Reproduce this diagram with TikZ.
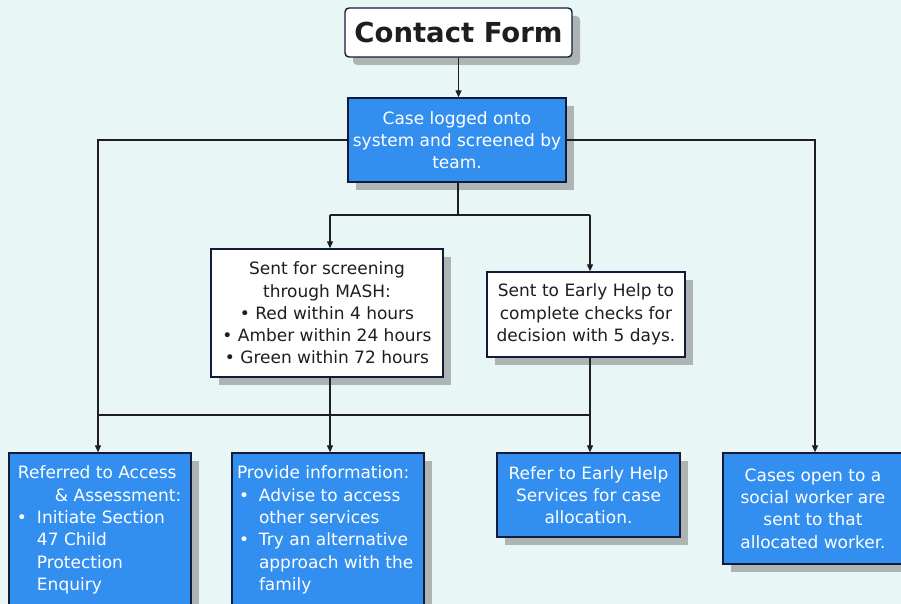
\documentclass[tikz,border=0pt]{standalone}
\usepackage{fontspec}
\setmainfont{DejaVu Sans}
\usetikzlibrary{arrows.meta,shadows}
\definecolor{bg}{RGB}{232,246,246}
\definecolor{boxblue}{RGB}{50,143,240}
\definecolor{navy}{RGB}{18,28,58}
\definecolor{shade}{RGB}{172,180,180}
\definecolor{ink}{RGB}{30,30,30}
\tikzset{
  conn/.style={line width=1.3pt, draw=ink},
  arr/.style={conn, -{Triangle[length=7pt,width=6pt]}},
  shbox/.style={draw=navy, line width=1.4pt, inner sep=0pt,
    drop shadow={shadow xshift=8pt, shadow yshift=-8pt, fill=shade, opacity=1}},
  whitebox/.style={shbox, fill=white, text=ink, align=center,
    font=\fontsize{17}{22.3}\selectfont},
  bluebox/.style={shbox, fill=boxblue, text=white, align=center,
    font=\fontsize{17}{22.3}\selectfont},
}
\newcommand{\bul}[2]{\makebox[#1][l]{\hspace{#2}\textbullet}}
\begin{document}
\begin{tikzpicture}[x=1pt,y=-1pt]
\fill[bg] (0,0) rectangle (901,604);
\clip (0,0) rectangle (901,604);
\useasboundingbox (0,0) rectangle (901,604);

% top
\node[shbox, fill=white, rounded corners=4pt, minimum width=227pt, minimum height=49pt,
  text=ink, font=\fontsize{27.5}{30}\selectfont\bfseries] (contact) at (458.5,32.5) {Contact Form};
\node[bluebox, minimum width=218pt, minimum height=84pt] (case) at (457,140)
  {Case logged onto\\system and screened by\\team.};

% middle
\node[whitebox, minimum width=232pt, minimum height=128pt] (mash) at (327,313)
  {Sent for screening\\through MASH:\\\textbullet\ Red within 4 hours\\\textbullet\ Amber within 24 hours\\\textbullet\ Green within 72 hours};
\node[whitebox, minimum width=198pt, minimum height=85pt] (eh) at (586,314.5)
  {Sent to Early Help to\\complete checks for\\decision with 5 days.};

% bottom
\node[bluebox, minimum width=182pt, minimum height=156pt, align=left] (ref) at (100,531)
  {\parbox[c][156pt][t]{182pt}{\vspace*{13pt}\raggedright
   \hspace*{9pt}Referred to Access\\
   \hspace*{46pt}\&~Assessment:\\
   \bul{28pt}{8pt}Initiate Section\\
   \hspace*{28pt}47 Child\\
   \hspace*{28pt}Protection\\
   \hspace*{28pt}Enquiry}};
\node[bluebox, minimum width=192pt, minimum height=156pt, align=left] (prov) at (328,531)
  {\parbox[c][156pt][t]{192pt}{\vspace*{13pt}\raggedright
   \hspace*{5pt}Provide information:\\
   \bul{27pt}{7pt}Advise to access\\
   \hspace*{27pt}other services\\
   \bul{27pt}{7pt}Try an alternative\\
   \hspace*{27pt}approach with the\\
   \hspace*{27pt}family}};
\node[bluebox, minimum width=183pt, minimum height=84pt] (refeh) at (588.5,495)
  {Refer to Early Help\\Services for case\\allocation.};
\node[bluebox, minimum width=180pt, minimum height=111pt] (cases) at (813,508.5)
  {Cases open to a\\social worker are\\sent to that\\allocated worker.};

% connectors
\draw[arr] (contact.south) -- (contact.south |- case.north);
\coordinate (lx) at (98,140);
\coordinate (rx) at (815,140);
\draw[arr] (case.west |- lx) -- (lx) -- (lx |- ref.north);
\draw[arr] (case.east |- rx) -- (rx) -- (rx |- cases.north);
\coordinate (s1) at (458,215);
\coordinate (sl) at (330,215);
\coordinate (sr) at (590,215);
\draw[conn] (case.south -| s1) -- (s1);
\draw[conn] (sl) -- (sr);
\draw[arr] (sl) -- (sl |- mash.north);
\draw[arr] (sr) -- (sr |- eh.north);
\coordinate (l1) at (98,415);
\coordinate (m1) at (330,415);
\coordinate (e1) at (590,415);
\draw[conn] (l1) -- (e1);
\draw[arr] (mash.south -| m1) -- (m1 |- prov.north);
\draw[arr] (eh.south -| e1) -- (e1 |- refeh.north);
\end{tikzpicture}
\end{document}
